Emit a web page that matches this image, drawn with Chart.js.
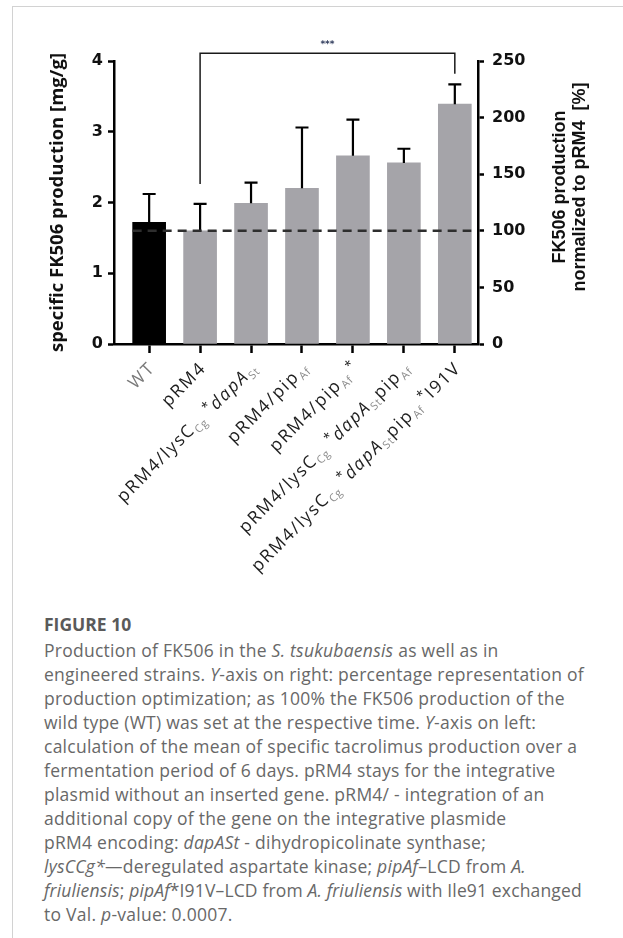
<!DOCTYPE html>
<html>
<head>
<meta charset="utf-8">
<title>FK506 production of engineered strains</title>
<script src="https://cdn.jsdelivr.net/npm/chart.js@4.4.1/dist/chart.umd.min.js"></script>
<style>
  html, body { margin: 0; padding: 0; background: #fff; }
  body { width: 623px; height: 938px; position: relative; overflow: hidden; }
  .frame { position: absolute; left: 12px; top: 6px; right: -20px; bottom: -20px;
           border-left: 1px solid #d2d2d2; border-top: 1px solid #d2d2d2; }
  #chartBox { position: absolute; left: 0; top: 0; width: 623px; height: 600px; }
  .caption { position: absolute; left: 44px; top: 612px; font-family: "Open Sans", Lato, sans-serif;
             font-size: 17.5px; letter-spacing: 0.25px; line-height: 24px; color: #686868; white-space: nowrap; }
  .caption .fig { font-weight: 700; height: 26px; line-height: 24px; color: #5a5a5a; letter-spacing: 0; }
  .caption .tight { letter-spacing: 0.15px; }
</style>
</head>
<body>
<div class="frame"></div>
<div id="chartBox"><canvas id="chart" width="623" height="600"></canvas></div>
<div class="caption">
<div class="fig">FIGURE 10</div>
Production of FK506 in the <i>S. tsukubaensis</i> as well as in<br>
engineered strains. <i>Y</i>-axis on right: percentage representation of<br>
production optimization; as 100% the FK506 production of the<br>
wild type (WT) was set at the respective time. <i>Y</i>-axis on left:<br>
calculation of the mean of specific tacrolimus production over a<br>
fermentation period of 6 days. pRM4 stays for the integrative<br>
plasmid without an inserted gene. pRM4/ - integration of an<br>
additional copy of the gene on the integrative plasmide<br>
pRM4 encoding: <i>dapASt</i> - dihydropicolinate synthase;<br>
<i>lysCCg*</i>—deregulated aspartate kinase; <i>pipAf</i>–LCD from <i>A.</i><br>
<span class="tight"><i>friuliensis</i>; <i>pipAf</i>*I91V–LCD from <i>A. friuliensis</i> with Ile91 exchanged</span><br>
to Val. <i>p</i>-value: 0.0007.
</div>

<script>
// Strain labels. Markup: _{..} subscript, ^{..} superscript, ~..~ italic, #..# muted grey.
const strainLabels = [
  '#WT#',
  'pRM4',
  'pRM4/lysC_{Cg} ^{*}~dapA~_{St}',
  'pRM4/pip_{Af}',
  'pRM4/pip_{Af}^{ *}',
  'pRM4/lysC_{Cg} ^{*}~dapA~_{St}pip_{Af}',
  'pRM4/lysC_{Cg} ^{*}~dapA~_{St}pip_{Af}^{ *}I91V'
];

// Mean specific FK506 production [mg/g] and upper standard deviation
const meanProduction = [1.72, 1.60, 1.99, 2.20, 2.66, 2.56, 3.39];
const sdProduction   = [0.40, 0.38, 0.29, 0.86, 0.51, 0.20, 0.28];

// Axis ticks: left in mg/g, right as % of pRM4
const leftTicks  = [0, 1, 2, 3, 4];
const rightTicks = [0, 50, 100, 150, 200, 250];

// 100 % reference (pRM4) drawn as a dashed line on the right axis
const referencePercent = 100;

// Significance comparison between pRM4 and the I91V strain
const comparison = { from: 1, to: 6, text: '***' };

const BAR_WIDTH = 33;

function parseRich(str) {
  const segs = [];
  let buf = '', italic = false, muted = false, i = 0;
  const flush = () => { if (buf) { segs.push({ t: buf, kind: 'base', italic, muted }); buf = ''; } };
  while (i < str.length) {
    const c = str[i];
    if (c === '~') { flush(); italic = !italic; i++; continue; }
    if (c === '#') { flush(); muted = !muted; i++; continue; }
    if ((c === '_' || c === '^') && str[i + 1] === '{') {
      flush();
      const end = str.indexOf('}', i);
      segs.push({ t: str.slice(i + 2, end), kind: c === '_' ? 'sub' : 'sup', italic: false, muted: false });
      i = end + 1;
      continue;
    }
    buf += c; i++;
  }
  flush();
  return segs;
}

const figurePlugin = {
  id: 'figureMarks',
  afterDatasetsDraw(chart) {
    const { ctx } = chart;
    const xs = chart.scales.x, ys = chart.scales.y, y1 = chart.scales.y1;

    // error bars (upper SD only)
    ctx.save();
    ctx.strokeStyle = '#000';
    ctx.lineWidth = 2.2;
    meanProduction.forEach((m, i) => {
      const x = xs.getPixelForValue(i);
      const yTop = ys.getPixelForValue(m);
      const yErr = ys.getPixelForValue(m + sdProduction[i]);
      ctx.beginPath();
      ctx.moveTo(x, yTop);
      ctx.lineTo(x, yErr);
      ctx.moveTo(x - 6.5, yErr);
      ctx.lineTo(x + 6.5, yErr);
      ctx.stroke();
    });

    // dashed 100 % reference
    const yRef = y1.getPixelForValue(referencePercent);
    ctx.strokeStyle = '#2e2e2e';
    ctx.lineWidth = 2.6;
    ctx.setLineDash([9, 6]);
    ctx.beginPath();
    ctx.moveTo(xs.getPixelForValue(0) - BAR_WIDTH / 2, yRef);
    ctx.lineTo(xs.getPixelForValue(strainLabels.length - 1) + BAR_WIDTH / 2, yRef);
    ctx.stroke();
    ctx.setLineDash([]);

    // significance bracket
    const xa = xs.getPixelForValue(comparison.from);
    const xb = xs.getPixelForValue(comparison.to);
    const yTopB = ys.getPixelForValue(4.11);
    const yFootA = ys.getPixelForValue(meanProduction[comparison.from] + sdProduction[comparison.from] + 0.28);
    const yFootB = ys.getPixelForValue(meanProduction[comparison.to] + sdProduction[comparison.to] + 0.15);
    ctx.strokeStyle = '#1a1a1a';
    ctx.lineWidth = 1.5;
    ctx.beginPath();
    ctx.moveTo(xa, yFootA);
    ctx.lineTo(xa, yTopB);
    ctx.lineTo(xb, yTopB);
    ctx.lineTo(xb, yFootB);
    ctx.stroke();
    ctx.fillStyle = '#2f3b5c';
    ctx.font = 'bold 9px "DejaVu Sans"';
    ctx.textAlign = 'center';
    ctx.textBaseline = 'alphabetic';
    ctx.fillText(comparison.text, (xa + xb) / 2, yTopB - 6);
    ctx.restore();
  },
  afterDraw(chart) {
    const { ctx } = chart;
    const xs = chart.scales.x, ys = chart.scales.y;

    // rotated strain labels with sub/superscripts
    const baseY = ys.bottom + 25;
    strainLabels.forEach((label, i) => {
      const segs = parseRich(label);
      const fontOf = s => {
        if (s.kind === 'sub') return '11px "Open Sans"';
        if (s.kind === 'sup') return '13px "Open Sans"';
        return (s.italic ? 'italic ' : '') + '17.5px "Open Sans"';
      };
      const spacing = s => s.kind === 'base' ? '1.8px' : '0.8px';
      ctx.save();
      ctx.translate(xs.getPixelForValue(i) + 7, baseY);
      ctx.rotate(-Math.PI / 4);
      ctx.textBaseline = 'alphabetic';
      ctx.textAlign = 'left';
      let total = 0;
      const widths = segs.map(s => {
        ctx.font = fontOf(s);
        ctx.letterSpacing = spacing(s);
        const w = ctx.measureText(s.t).width;
        total += w;
        return w;
      });
      let x = -total;
      segs.forEach((s, k) => {
        ctx.font = fontOf(s);
        ctx.letterSpacing = spacing(s);
        let dy = 0, color = '#1e1e1e';
        if (s.kind === 'sub') { dy = 4; color = '#8c8c8c'; }
        if (s.kind === 'sup') { dy = -6; }
        if (s.muted) color = '#7a7a7a';
        ctx.fillStyle = color;
        ctx.fillText(s.t, x, dy);
        x += widths[k];
      });
      ctx.restore();
    });

    // right axis title (two lines, reading bottom to top)
    ctx.save();
    ctx.fillStyle = '#111';
    ctx.font = 'bold 18px "Liberation Sans"';
    ctx.textAlign = 'center';
    ctx.textBaseline = 'middle';
    [['FK506 production', 560], ['normalized to pRM4  [%]', 580]].forEach(([t, x]) => {
      ctx.save();
      ctx.translate(x, 187);
      ctx.rotate(-Math.PI / 2);
      ctx.fillText(t, 0, 0);
      ctx.restore();
    });
    ctx.restore();
  }
};

const tickFont = { family: '"DejaVu Sans"', size: 16, weight: 'bold' };

new Chart(document.getElementById('chart'), {
  type: 'bar',
  data: {
    datasets: [{
      data: meanProduction.map((v, i) => ({ x: i, y: v })),
      backgroundColor: meanProduction.map((_, i) => i === 0 ? '#000000' : '#a5a4a9'),
      borderWidth: 0,
      barThickness: BAR_WIDTH,
      xAxisID: 'x',
      yAxisID: 'y'
    }]
  },
  options: {
    responsive: false,
    animation: false,
    events: [],
    layout: { padding: { top: 61, left: 0, right: 0, bottom: 0 } },
    plugins: { legend: { display: false }, tooltip: { enabled: false } },
    scales: {
      x: {
        type: 'linear',
        offset: false,
        min: -0.69,
        max: 6.455,
        afterBuildTicks: s => { s.ticks = strainLabels.map((_, i) => ({ value: i })); },
        afterFit: s => { s.height = 600 - 344; },
        ticks: { display: false },
        grid: { display: true, offset: false, drawOnChartArea: false, drawTicks: true, tickLength: 9, tickWidth: 2.5, tickColor: '#000' },
        border: { display: true, color: '#000', width: 2.5 }
      },
      y: {
        type: 'linear',
        position: 'left',
        min: 0,
        max: 4,
        afterBuildTicks: s => { s.ticks = leftTicks.map(v => ({ value: v })); },
        afterFit: s => { s.width = 114; },
        ticks: { font: tickFont, color: '#111', padding: 5 },
        grid: { display: true, drawOnChartArea: false, drawTicks: true, tickLength: 6, tickWidth: 2.5, tickColor: '#000' },
        border: { display: true, color: '#000', width: 2.5 },
        title: {
          display: true,
          text: 'specific FK506 production [mg/g]',
          font: { family: '"Open Sans"', size: 18.5, weight: 'bold' },
          color: '#111',
          padding: { top: 47, bottom: 0 }
        }
      },
      y1: {
        type: 'linear',
        position: 'right',
        min: 0,
        max: 250,
        afterBuildTicks: s => { s.ticks = rightTicks.map(v => ({ value: v })); },
        afterFit: s => { s.width = 623 - 478; },
        ticks: { font: tickFont, color: '#111', padding: 8 },
        grid: { display: true, drawOnChartArea: false, drawTicks: true, tickLength: 6, tickWidth: 2.5, tickColor: '#000' },
        border: { display: true, color: '#000', width: 2.5 }
      }
    }
  },
  plugins: [figurePlugin]
});
</script>
</body>
</html>
